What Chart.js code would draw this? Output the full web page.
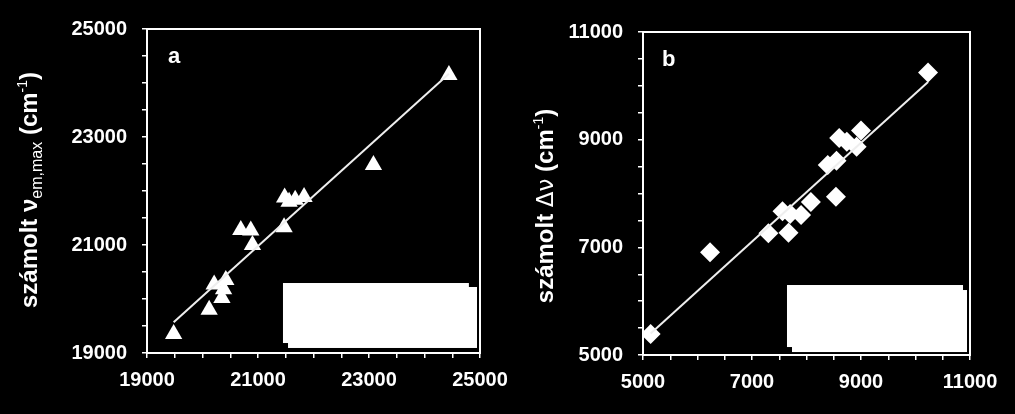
<!DOCTYPE html>
<html>
<head>
<meta charset="utf-8">
<script src="https://cdn.jsdelivr.net/npm/chart.js@4.4.1/dist/chart.umd.min.js"></script>
<style>
  body { margin: 0; background: #000; width: 1015px; height: 414px; overflow: hidden; position: relative; }
  canvas { position: absolute; top: 0; }
</style>
</head>
<body>
<canvas id="chartA" width="530" height="414" style="left:0"></canvas>
<canvas id="chartB" width="510" height="414" style="left:505px"></canvas>
<script>
// panel a: measured vs calculated emission maximum (triangles)
const aX = [19480, 20120, 20210, 20380, 20350, 20420, 20690, 20870, 20900, 21470, 21480, 21560, 21670, 21830, 23080, 24440];
const aY = [19350, 19800, 20270, 20180, 20020, 20350, 21280, 21270, 21000, 21330, 21880, 21800, 21840, 21890, 22480, 24150];
const aFitX = [19480, 24440];
const aFitY = [19570, 24170];

// panel b: calculated stokes shift (diamonds)
const bX = [5140, 6230, 7300, 7670, 7560, 7700, 7900, 8080, 8540, 8390, 8550, 8600, 8740, 8920, 9000, 10230];
const bY = [5390, 6910, 7260, 7270, 7670, 7620, 7600, 7840, 7940, 8530, 8610, 9030, 8960, 8870, 9170, 10250];
const bFitX = [5140, 10230];
const bFitY = [5400, 10070];

const aTicks = [19000, 25000];
const bTicks = [5000, 11000];

// white boxes covering the legends (data units: x1, x2, y1, y2)
const aBoxes = [[21450, 24800, 20296, 19185], [21541, 24946, 20222, 19093]];
const bBoxes = [[7642, 10872, 6300, 5148], [7734, 10945, 6207, 5055]];

function toPts(xs, ys) {
  return xs.map((x, i) => ({ x: x, y: ys[i] }));
}

function decorPlugin(opts) {
  return {
    id: "decor",
    beforeDatasetsDraw(chart) {
      const ctx = chart.ctx;
      const sx = chart.scales.x, sy = chart.scales.y;
      ctx.save();
      ctx.fillStyle = "#fff";
      opts.boxes.forEach((b) => {
        const x1 = sx.getPixelForValue(b[0]), x2 = sx.getPixelForValue(b[1]);
        const y1 = sy.getPixelForValue(b[2]), y2 = sy.getPixelForValue(b[3]);
        ctx.fillRect(x1, y1, x2 - x1, y2 - y1);
      });
      ctx.restore();
    },
    afterDraw(chart) {
      const ctx = chart.ctx;
      const area = chart.chartArea;
      ctx.save();
      // box round the plot
      ctx.strokeStyle = "#fff";
      ctx.lineWidth = 2;
      ctx.strokeRect(area.left, area.top, area.right - area.left, area.bottom - area.top);

      // panel letter
      ctx.fillStyle = "#fff";
      ctx.font = "bold 22px 'Liberation Sans', Arial, sans-serif";
      ctx.textBaseline = "alphabetic";
      ctx.fillText(opts.letter, area.left + opts.letterDx, area.top + 34);

      // rotated y title with sub/superscripts
      let total = 0;
      opts.title.forEach((r) => {
        ctx.font = r.font;
        r.w = ctx.measureText(r.t).width;
        total += r.w;
      });
      ctx.translate(opts.titleX, opts.titleY);
      ctx.rotate(-Math.PI / 2);
      let x = -total / 2;
      opts.title.forEach((r) => {
        ctx.font = r.font;
        ctx.fillText(r.t, x, r.dy || 0);
        x += r.w;
      });
      ctx.restore();
    }
  };
}

function makeChart(id, xs, ys, fitX, fitY, range, style, radius, pad, decor) {
  const tickFont = { family: "'Liberation Sans', Arial, sans-serif", size: 20, weight: "bold" };
  const label = (v) => (v % 2000 === 1000 ? String(v) : "");
  return new Chart(document.getElementById(id), {
    type: "scatter",
    data: {
      datasets: [
        {
          type: "line",
          data: toPts(fitX, fitY),
          borderColor: "#eeeeee",
          borderWidth: 2,
          pointRadius: 0,
          fill: false,
        },
        {
          data: toPts(xs, ys),
          pointStyle: style,
          pointRadius: radius,
          pointBackgroundColor: "#fff",
          pointBorderColor: "#fff",
          pointBorderWidth: 0,
        },
      ],
    },
    options: {
      responsive: false,
      animation: false,
      devicePixelRatio: 1,
      layout: { autoPadding: false, padding: { left: 0, top: pad.top, right: pad.right, bottom: 0 } },
      plugins: { legend: { display: false }, tooltip: { enabled: false } },
      scales: {
        x: {
          type: "linear",
          min: range[0],
          max: range[1],
          afterFit: (s) => { s.height = pad.xh; },
          border: { display: true, color: "#fff", width: 2 },
          grid: { display: true, drawOnChartArea: false, color: "#fff", lineWidth: 1.5, tickLength: 5 },
          ticks: { stepSize: 500, autoSkip: false, maxRotation: 0, color: "#fff", font: tickFont, padding: 10, callback: label },
        },
        y: {
          type: "linear",
          min: range[2],
          max: range[3],
          afterFit: (s) => { s.width = pad.left; },
          border: { display: true, color: "#fff", width: 2 },
          grid: { display: true, drawOnChartArea: false, color: "#fff", lineWidth: 1.5, tickLength: 5 },
          ticks: { stepSize: 500, autoSkip: false, color: "#fff", font: tickFont, padding: 15, callback: label },
        },
      },
    },
    plugins: [decorPlugin(decor)],
  });
}

const big = "bold 24px 'Liberation Sans', Arial, sans-serif";
const sub = "16px 'Liberation Sans', Arial, sans-serif";
const sup = "14px 'Liberation Sans', Arial, sans-serif";

makeChart("chartA", aX, aY, aFitX, aFitY, [aTicks[0], aTicks[1], 19000, 25000], "triangle", 10,
  { top: 29, right: 50, left: 147, xh: 61 },
  {
    boxes: aBoxes, letter: "a", letterDx: 21, titleX: 37, titleY: 190,
    title: [
      { t: "számolt ", font: big },
      { t: "ν", font: big },
      { t: "em,max", font: sub, dy: 5 },
      { t: " (cm", font: big },
      { t: "-1", font: sup, dy: -10 },
      { t: ")", font: big },
    ],
  });

makeChart("chartB", bX, bY, bFitX, bFitY, [bTicks[0], bTicks[1], 5000, 11000], "rectRot", 10,
  { top: 32, right: 45, left: 138, xh: 59 },
  {
    boxes: bBoxes, letter: "b", letterDx: 19, titleX: 48, titleY: 206,
    title: [
      { t: "számolt ", font: big },
      { t: "Δν", font: "23px 'DejaVu Sans', sans-serif" },
      { t: " (cm", font: big },
      { t: "-1", font: sup, dy: -10 },
      { t: ")", font: big },
    ],
  });
</script>
</body>
</html>
